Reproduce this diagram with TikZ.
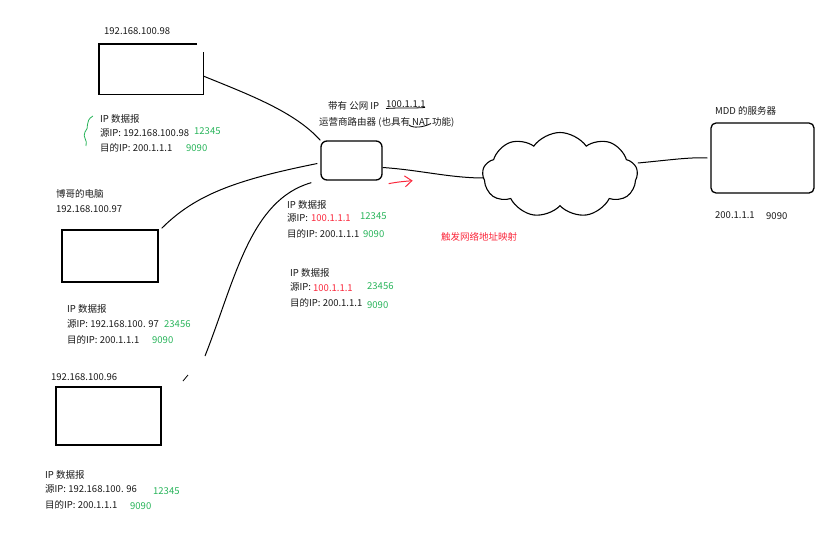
\documentclass[tikz,border=0pt]{standalone}
\usepackage{fontspec}
\setmainfont{Noto Sans CJK SC}
\usetikzlibrary{shapes.symbols,calc,arrows.meta}
\definecolor{pktgreen}{RGB}{40,180,90}
\definecolor{natred}{RGB}{250,40,60}
\begin{document}
\begin{tikzpicture}[x=1pt,y=-1pt,
  txt/.style={anchor=west,inner sep=0pt,font=\fontsize{9.5}{11}\selectfont,text=black!90},
  gtxt/.style={txt,text=pktgreen},
  rtxt/.style={txt,text=natred},
  hostbox/.style={draw,line width=1.4pt,inner sep=0pt},
  wire/.style={line width=1pt},
  ink/.style={line width=0.8pt}]
\useasboundingbox (0,0) rectangle (831,552);

% ---------- host 98 ----------
\node[txt] (l98) at (104,31) {192.168.100.98};
\node[minimum width=104pt,minimum height=50pt,inner sep=0pt] (b98) at (151,69) {};
\draw[line width=1.4pt] ([xshift=-6pt]b98.north east) -- (b98.north west) -- (b98.south west) -- (b98.south east) -- ([yshift=-8pt]b98.north east);
\draw[pktgreen,ink] (93,116) .. controls (84,121) and (90,128) .. (85,132) .. controls (82,137) and (88,140) .. (86,146);
\node[txt] (p98a) at (100,119) {IP 数据报};
\node[txt] (p98b) at (100,133) {源IP: 192.168.100.98};
\node[gtxt] (p98c) at (194,131) {12345};
\node[txt] (p98d) at (100,148) {目的IP: 200.1.1.1};
\node[gtxt] (p98e) at (186,148) {9090};

% ---------- host 97 ----------
\node[txt] (n97) at (56,194) {博哥的电脑};
\node[txt] (l97) at (56,209) {192.168.100.97};
\node[hostbox,minimum width=96pt,minimum height=52pt] (b97) at (110,256) {};
\node[txt] (p97a) at (67,309) {IP 数据报};
\node[txt] (p97b) at (67,324) {源IP: 192.168.100. 97};
\node[gtxt] (p97c) at (164,324) {23456};
\node[txt] (p97d) at (67,340) {目的IP: 200.1.1.1};
\node[gtxt] (p97e) at (152,340) {9090};

% ---------- host 96 ----------
\node[txt] (l96) at (51,377) {192.168.100.96};
\node[hostbox,minimum width=105pt,minimum height=58pt] (b96) at (108.5,416) {};
\draw[ink] (183,381) -- (188,375);
\node[txt] (p96a) at (45,475) {IP 数据报};
\node[txt] (p96b) at (45,489) {源IP: 192.168.100. 96};
\node[gtxt] (p96c) at (153,491) {12345};
\node[txt] (p96d) at (45,505) {目的IP: 200.1.1.1};
\node[gtxt] (p96e) at (130,506) {9090};

% ---------- router ----------
\node[draw,line width=1.3pt,rounded corners=6pt,minimum width=61pt,minimum height=39pt,inner sep=0pt] (r) at (351.5,160.5) {};
\node[txt] (ra) at (328,106) {带有 公网 IP};
\node[txt] (rb) at (386,104) {100.1.1.1};
\node[txt] (rc) at (319,122) {运营商路由器 (也具有 NAT 功能)};
\draw[ink] (386,108.5) .. controls (400,107.5) and (412,108.5) .. (425,107.5);
\draw[ink] (409,125) .. controls (413,128.5) and (423,127.5) .. (431,123.5);

\node[txt] (pra) at (287,205) {IP 数据报};
\node[txt] (prb) at (287,218) {源IP:};
\node[rtxt] (prc) at (311,218) {100.1.1.1};
\node[gtxt] (prd) at (360,216) {12345};
\node[txt] (pre) at (287,234) {目的IP: 200.1.1.1};
\node[gtxt] (prf) at (363,234) {9090};

\node[txt] (pxa) at (290,273) {IP 数据报};
\node[txt] (pxb) at (290,287) {源IP:};
\node[rtxt] (pxc) at (313,288) {100.1.1.1};
\node[gtxt] (pxd) at (367,286) {23456};
\node[txt] (pxe) at (290,303) {目的IP: 200.1.1.1};
\node[gtxt] (pxf) at (367,305) {9090};

\node[rtxt] (nat) at (441,237) {触发网络地址映射};
\draw[natred,line width=1pt,-{Straight Barb[length=7pt,width=11pt]}] ($(r.south east)+(6,3)$) .. controls (398,182) .. ($(r.south east)+(30,0)$);

% ---------- cloud & server ----------
\node[cloud,draw,line width=1.1pt,cloud puffs=9,cloud puff arc=110,aspect=1.8,minimum width=155pt,minimum height=85pt,inner sep=0pt] (cl) at (560,175) {};
\node[draw,line width=1.3pt,rounded corners=5pt,minimum width=103pt,minimum height=70pt,inner sep=0pt] (s) at (762.5,158) {};
\node[txt] (sa) at (715,111) {MDD 的服务器};
\node[txt] (sb) at (715,215) {200.1.1.1};
\node[txt] (sc) at (766,216) {9090};

% ---------- connectors ----------
\coordinate (c3s) at (205,356);
\draw[wire] ($(b98.east)+(0,7)$) .. controls (250,95) and (295,112) .. (r.north west);
\draw[wire] ($(b97.north east)+(3,-1)$) .. controls (195,195) and (235,180) .. ($(r.west)+(-3,3)$);
\draw[wire] (c3s) .. controls (235,280) and (250,200) .. ($(r.south west)+(-9,2)$);
\draw[wire] ($(r.east)+(0,7)$) .. controls (420,170) and (450,178) .. ($(cl.west)+(2,3)$);
\draw[wire] ($(cl.east)+(0,-12)$) .. controls (670,160) and (690,157) .. ($(s.west)+(-3,0)$);
\end{tikzpicture}
\end{document}
